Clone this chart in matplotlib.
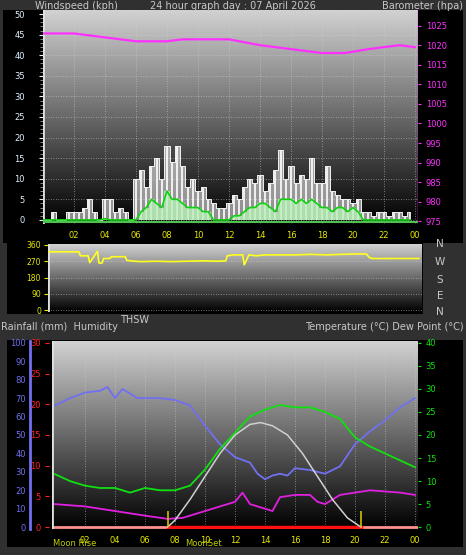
import numpy as np
import matplotlib
matplotlib.use("Agg")
import matplotlib.pyplot as plt

W, H = 466, 555
# ---------------- data ----------------
wind_t = [i / 3 for i in range(72)]
gust = [0,0,2, 0,0,2, 2,2,3, 5,2,0, 5,5,2, 3,2,0, 10,12,8, 13,15,10, 18,14,18, 13,8,10,
        7,8,5, 4,3,3, 4,6,5, 8,10,9, 11,7,9, 12,17,10, 13,9,11, 10,15,9, 9,13,7, 6,5,5,
        4,5,2, 2,1,2, 2,1,2, 2,1,2]
avg = [0,0,0, 0,0,0, 0,0,0, 0,0,0, 0.3,0,0, 0,0,0, 0,2,3, 5,4,3, 7,5,5, 4,3,3,
       3,2,2, 0,0,0, 0,1,1, 2,3,3, 4,4,3, 2,5,5, 5,4,5, 4,5,4, 3,3,2, 3,3,2,
       3,2,0, 0,0,0, 0,0,0, 0,0,0]
baro_t = [0, 2, 4, 6, 8, 9, 10, 12, 14, 16, 18, 19.5, 21, 23, 24]
baro = [1023, 1023, 1022, 1021, 1021, 1021.5, 1021.5, 1021.5, 1020, 1019, 1018, 1018, 1019, 1020, 1019.5]

dir_t = [0, 2, 2.1, 2.6, 2.7, 3.2, 3.3, 3.5, 3.6, 4.0, 4.1, 5.0, 5.1, 5.6, 6, 7, 8, 9, 10, 11, 11.5,
         11.6, 12, 12.6, 12.7, 13, 13.5, 14, 15, 16, 17, 18, 19, 20, 20.6, 20.8, 21, 24]
wdir = [322, 322, 300, 300, 262, 325, 260, 260, 285, 285, 295, 295, 275, 270, 268, 270, 268, 270, 272, 270, 272,
        300, 305, 305, 250, 305, 300, 305, 305, 305, 308, 305, 308, 310, 310, 290, 285, 285]

hum_t = [0, 1, 2, 3, 3.5, 4, 4.5, 5.5, 7, 8, 9, 10, 11, 12, 13, 13.5, 14, 14.5, 15, 15.5, 16, 17, 18, 19, 20, 21, 22, 23, 24]
hum = [66, 70, 73, 74, 76, 70, 75, 70, 70, 69, 66, 55, 45, 38, 35, 29, 26, 28, 29, 28, 32, 31, 29, 33, 45, 52, 58, 65, 70]
temp_t = list(range(25))
temp = [11.5, 10, 9, 8.5, 8.5, 7.5, 8.5, 8, 8, 9, 12.5, 17, 20.5, 24, 25.5, 26.5, 26, 26, 25, 23.5, 19.5, 17.5, 16, 14.5, 13]
dew_t = [0, 2, 4, 6, 7.5, 8.5, 10, 12, 12.5, 13, 14, 14.5, 15, 16, 17, 17.5, 18, 19, 20, 21, 23, 24]
dew = [5, 4.5, 3.5, 2.5, 1.8, 2, 3.5, 5.5, 7.5, 5, 4, 3.5, 6.5, 7, 7, 5.5, 5, 7, 7.5, 8, 7.5, 7]
thsw_t = [7.5, 8, 9, 10, 11, 12, 13, 13.7, 14.5, 15.5, 16.5, 17.5, 18.5, 19.5, 20.4]
thsw = [0, 1.5, 6, 11, 16, 20, 22.3, 22.7, 22, 20, 16, 11, 6, 2, 0]
sun_events = [7.5, 20.4]
hour_ticks = list(range(2, 25, 2))
hour_labels = ["%02d" % (h % 24) for h in hour_ticks]

# ---------------- figure ----------------
fig = plt.figure(figsize=(W / 100, H / 100), dpi=100, facecolor="#303030")

def rect(x0, y0, x1, y1):
    return [x0 / W, 1 - y1 / H, (x1 - x0) / W, (y1 - y0) / H]

for r in [(3, 10, 463, 243), (7, 243, 423, 314), (7, 340, 463, 547)]:
    bx = fig.add_axes(rect(*r))
    bx.set_facecolor("black"); bx.set_xticks([]); bx.set_yticks([])
    for s in bx.spines.values(): s.set_visible(False)

txtc = "#c8c8c8"
fig.text(35 / W, 1 - 6 / H, "Windspeed (kph)", color=txtc, fontsize=7, va="center")
fig.text(233 / W, 1 - 6 / H, "24 hour graph day : 07 April 2026", color=txtc, fontsize=7, ha="center", va="center")
fig.text(463 / W, 1 - 6 / H, "Barometer (hpa)", color=txtc, fontsize=7, ha="right", va="center")
fig.text(1 / W, 1 - 327 / H, "Rainfall (mm)  Humidity", color=txtc, fontsize=7, va="center")
fig.text(120 / W, 1 - 320 / H, "THSW", color=txtc, fontsize=7, va="center")
fig.text(464 / W, 1 - 327 / H, "Temperature (°C) Dew Point (°C)", color=txtc, fontsize=7, ha="right", va="center")
for lab, y in zip(["N", "W", "S", "E", "N"], [244, 262, 280, 296, 312]):
    fig.text(440 / W, 1 - y / H, lab, color=txtc, fontsize=7.5, ha="center", va="center")

grad = np.linspace(0, 1, 256).reshape(-1, 1)

def styled(ax, top=0.82):
    ax.imshow(grad, extent=[0, 1, 0, 1], transform=ax.transAxes, aspect="auto",
              cmap="gray", vmin=0, vmax=1 / top, origin="lower", zorder=0)
    ax.set_facecolor("black")
    for s in ax.spines.values(): s.set_visible(False)
    ax.grid(True, color="#d0d0d0", linestyle=(0, (1, 2)), linewidth=0.6, alpha=0.7)

# ---- top: wind + baro
ax = fig.add_axes(rect(43, 10, 418, 224))
styled(ax)
ax.set_xlim(0, 24.2); ax.set_ylim(-1, 51)
ax.fill_between(wind_t, 0, gust, step="mid", color="white", alpha=0.55, lw=0, zorder=2)
ax.vlines(wind_t, 0, gust, color="white", lw=1.2, zorder=2)
ax.step(wind_t, gust, where="mid", color="#f0f0f0", lw=0.7, zorder=2)
ax.fill_between(wind_t, 0, avg, step="mid", color="#b8f0b8", alpha=0.8, lw=0, zorder=3)
ax.plot(wind_t, avg, color="#10d010", lw=1.2, zorder=4)
ax.axhline(-0.5, color="#50c050", lw=1.5, zorder=4)
ax.set_yticks(range(0, 51, 5))
ax.set_xticks(hour_ticks); ax.set_xticklabels(hour_labels)
ax.tick_params(axis="y", colors="#e0f0ff", labelsize=6, length=3, pad=10)
ax.tick_params(axis="x", colors="#e8e800", labelsize=6, length=0, pad=5)
ax.set_yticks(np.arange(0, 51, 1), minor=True)
ax.tick_params(axis="y", which="minor", colors="#a0a0a0", length=2)
ax.axvline(0, color="#e0e0e0", lw=2)
ax2 = ax.twinx()
ax2.set_ylim(974.3, 1029)
ax2.plot(baro_t, baro, color="#ff30ff", lw=1.6)
ax2.set_yticks(range(975, 1026, 5))
ax2.tick_params(axis="y", colors="#ff30ff", labelsize=6, length=2)
for s in ax2.spines.values(): s.set_visible(False)
ax2.axvline(24.2, color="#ff30ff", lw=1)

# ---- middle: direction
am = fig.add_axes(rect(48, 244, 422, 312))
styled(am)
am.set_xlim(0, 24.2); am.set_ylim(-10, 365)
am.plot(dir_t, wdir, color="#ffff20", lw=1.2, zorder=3)
am.set_yticks([0, 90, 180, 270, 360]); am.set_xticks([])
am.tick_params(axis="y", colors="#e8e800", labelsize=5.5, length=3, pad=2)
am.axvline(0, color="#e0e0e0", lw=2)

# ---- bottom: humidity / rain / temperature
ab = fig.add_axes(rect(52, 341, 418, 529))
styled(ab)
ab.set_xlim(-0.2, 24.2); ab.set_ylim(-1, 101)
ab.set_yticks([]); ab.set_xticks(hour_ticks)
ab.set_xticklabels(hour_labels)
ab.tick_params(axis="x", colors="#e8e800", labelsize=6, length=0, pad=5)
ab.grid(True, axis="both", color="#d0d0d0", linestyle=(0, (1, 2)), linewidth=0.6, alpha=0.7)
ab.axhline(0, color="#ff9090", lw=2, zorder=2)
ab.plot(sun_events, [0, 0], color="#ff1010", lw=2.5, zorder=3)
ab.plot(hum_t, hum, color="#7070f0", lw=1.3, zorder=4)
at = ab.twinx()
at.set_ylim(-0.4, 40.4)
at.plot(temp_t, temp, color="#10e010", lw=1.3, zorder=4)
at.plot(dew_t, dew, color="#e020e0", lw=1.3, zorder=4)
at.plot(thsw_t, thsw, color="#d0d0d0", lw=1.1, zorder=4)
at.vlines(sun_events, 0, 3.5, color="#d0c000", lw=1.2, zorder=5)
at.set_yticks(range(0, 41, 5))
at.tick_params(axis="y", colors="#10e010", labelsize=6, length=2)
for s in at.spines.values(): s.set_visible(False)
ah = fig.add_axes(rect(30, 341, 30.1, 529))
ah.set_ylim(-1, 101); ah.set_xticks([]); ah.set_yticks(range(0, 101, 10))
ah.patch.set_visible(False)
for k, s in ah.spines.items(): s.set_visible(k == "right")
ah.spines["right"].set_color("#7070f0"); ah.spines["right"].set_linewidth(2)
ah.yaxis.tick_left()
ah.tick_params(axis="y", colors="#7070f0", labelsize=6, length=0, pad=3)
ar = fig.add_axes(rect(49, 341, 49.1, 529))
ar.set_ylim(-0.3, 30.3); ar.set_xticks([]); ar.set_yticks(range(0, 31, 5))
ar.patch.set_visible(False)
for s in ar.spines.values(): s.set_visible(False)
ar.tick_params(axis="y", colors="#ff2020", labelsize=6, length=3, pad=3)
ab.axvline(-0.2, color="#e0e0e0", lw=2)
fig.text(53 / W, 1 - 543 / H, "Moon Rise", color="#c0d000", fontsize=6, va="center")
fig.text(185 / W, 1 - 543 / H, "MoonSet", color="#c0d000", fontsize=6, va="center")

fig.savefig("out.png", dpi=100, facecolor=fig.get_facecolor())
